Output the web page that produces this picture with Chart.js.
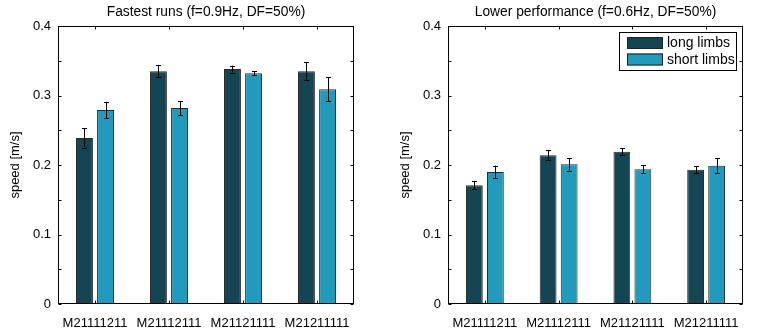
<!DOCTYPE html>
<html><head><meta charset="utf-8">
<script src="https://cdn.jsdelivr.net/npm/chart.js@4"></script>
<style>
html,body{margin:0;padding:0;background:#fff;}
#wrap{position:relative;width:763px;height:329px;overflow:hidden;}
.c{position:absolute;top:0;height:329px;}
</style></head><body>
<div id="wrap">
<div class="c" style="left:0;width:381px;"><canvas id="c1"></canvas></div>
<div class="c" style="left:381px;width:382px;"><canvas id="c2"></canvas></div>
</div>
<script>
const categories = ['M21111211','M21112111','M21121111','M21211111'];
const seriesNames = ['long limbs','short limbs'];
const fastLong = [0.239, 0.335, 0.338, 0.335];
const fastLongErr = [0.014, 0.009, 0.005, 0.0125];
const fastShort = [0.279, 0.282, 0.332, 0.309];
const fastShortErr = [0.012, 0.010, 0.003, 0.017];
const lowLong = [0.171, 0.214, 0.219, 0.193];
const lowLongErr = [0.006, 0.007, 0.005, 0.005];
const lowShort = [0.190, 0.201, 0.194, 0.199];
const lowShortErr = [0.009, 0.009, 0.006, 0.011];
const yTicks = [0, 0.1, 0.2, 0.3, 0.4];

const FONT = "'Liberation Sans', Arial, Helvetica, sans-serif";
const DARK = '#134552', LIGHT = '#219abb';

const framePlugin = {
  id: 'frame',
  afterDatasetsDraw(chart, args, opts) {
    const ctx = chart.ctx, a = chart.chartArea;
    const y = chart.scales.y, x = chart.scales.x;
    ctx.save();
    // error bars
    chart.data.datasets.forEach((ds, di) => {
      const meta = chart.getDatasetMeta(di);
      meta.data.forEach((bar, i) => {
        const v = ds.data[i], e = ds.err[i];
        const yt = y.getPixelForValue(v + e), yb = y.getPixelForValue(v - e);
        ctx.strokeStyle = '#000'; ctx.lineWidth = 1;
        const cx = Math.round(bar.x) + 0.5;
        ctx.beginPath();
        ctx.moveTo(cx, yt); ctx.lineTo(cx, yb);
        ctx.moveTo(cx - 2.5, Math.round(yt) + 0.5); ctx.lineTo(cx + 2.5, Math.round(yt) + 0.5);
        ctx.moveTo(cx - 2.5, Math.round(yb) + 0.5); ctx.lineTo(cx + 2.5, Math.round(yb) + 0.5);
        ctx.stroke();
      });
    });
    // frame
    ctx.strokeStyle = '#000'; ctx.lineWidth = 1;
    const L = Math.round(a.left) + 0.5, R = Math.round(a.right) - 0.5;
    const T = Math.round(a.top) + 0.5, B = Math.round(a.bottom) - 0.5;
    ctx.strokeRect(L, T, R - L, B - T);
    // inward ticks
    ctx.beginPath();
    for (let v = 0; v <= 0.4001; v += 0.05) {
      const py = Math.round(y.getPixelForValue(v)) + 0.5;
      ctx.moveTo(L, py); ctx.lineTo(L + 3, py);
      ctx.moveTo(R, py); ctx.lineTo(R - 3, py);
    }
    categories.forEach((c, i) => {
      const px = Math.round(x.getPixelForValue(i)) + 0.5;
      ctx.moveTo(px, B); ctx.lineTo(px, B - 3);
      ctx.moveTo(px, T); ctx.lineTo(px, T + 3);
    });
    ctx.stroke();
    // title
    ctx.fillStyle = '#000';
    ctx.font = '13.8px ' + FONT;
    ctx.textAlign = 'center';
    ctx.textBaseline = 'middle';
    ctx.fillText(opts.title, (a.left + a.right) / 2, 12);
    // legend
    if (opts.legend) {
      const lx = a.left + opts.legend.x, ly = a.top + opts.legend.y;
      ctx.fillStyle = '#fff';
      ctx.fillRect(lx, ly, 117, 38);
      ctx.strokeStyle = '#000';
      ctx.strokeRect(lx + 0.5, ly + 0.5, 117, 38);
      chart.data.datasets.forEach((ds, di) => {
        const sy = ly + 5 + di * 16.5;
        ctx.fillStyle = ds.backgroundColor;
        ctx.fillRect(lx + 8, sy, 36, 12);
        ctx.strokeStyle = '#222';
        ctx.strokeRect(lx + 8.5, sy + 0.5, 35, 11);
        ctx.fillStyle = '#000';
        ctx.font = '14px ' + FONT;
        ctx.textBaseline = 'middle';
        ctx.textAlign = 'left';
        ctx.fillText(ds.label, lx + 48, sy + 6.5);
      });
    }
    ctx.restore();
  }
};

function makeChart(id, title, longV, longE, shortV, shortE, rightPad, leftW, titlePad, legend) {
  return new Chart(document.getElementById(id), {
    type: 'bar',
    data: {
      labels: categories,
      datasets: [
        {label: seriesNames[0], data: longV, err: longE, backgroundColor: DARK, borderColor: '#2b2b2b', borderWidth: 1, borderSkipped: false},
        {label: seriesNames[1], data: shortV, err: shortE, backgroundColor: LIGHT, borderColor: '#2b2b2b', borderWidth: 1, borderSkipped: false}
      ]
    },
    options: {
      responsive: true, maintainAspectRatio: false, animation: false,
      layout: {padding: {left: 0, right: rightPad, top: 26, bottom: 0}},
      datasets: {bar: {categoryPercentage: 0.57, barPercentage: 0.8}},
      plugins: {
        legend: {display: false}, tooltip: {enabled: false},
        title: {display: false},
        frame: {legend: legend, title: title}
      },
      scales: {
        x: {
          grid: {display: false, drawTicks: false}, border: {display: false},
          ticks: {color: '#000', font: {family: FONT, size: 13}, padding: 12, maxRotation: 0, autoSkip: false},
          afterFit(s) { s.height = 25; }
        },
        y: {
          min: 0, max: 0.4,
          grid: {display: false, drawTicks: false}, border: {display: false},
          afterBuildTicks(s) { s.ticks = yTicks.map(v => ({value: v})); },
          ticks: {color: '#000', font: {family: FONT, size: 13}, padding: 7,
            callback: v => (Math.round(v * 10) / 10).toString()},
          title: {display: true, text: 'speed [m/s]', color: '#000', font: {family: FONT, size: 13}, padding: {top: titlePad, bottom: 0}},
          afterFit(s) { s.width = leftW; }
        }
      }
    },
    plugins: [framePlugin]
  });
}

makeChart('c1', 'Fastest runs (f=0.9Hz, DF=50%)', fastLong, fastLongErr, fastShort, fastShortErr, 27, 58, 8, null);
makeChart('c2', 'Lower performance (f=0.6Hz, DF=50%)', lowLong, lowLongErr, lowShort, lowShortErr, 20, 67, 17, {x: 171, y: 6});
</script>
</body></html>
